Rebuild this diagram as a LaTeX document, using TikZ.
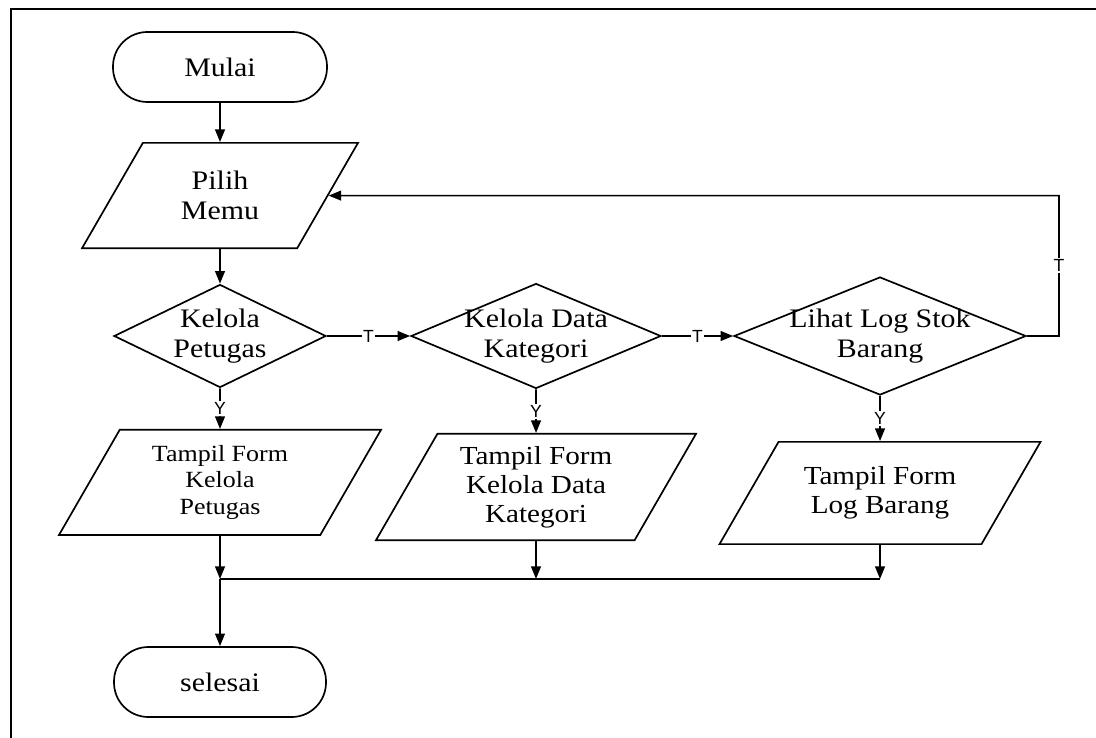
\documentclass[tikz,border=0pt]{standalone}
\usepackage{fontspec}
\setmainfont{Liberation Serif}[FakeStretch=1.12]
\newfontfamily\lblfont{Liberation Sans}
\usepackage{tikz}
\usetikzlibrary{shapes.geometric,arrows.meta}

\tikzset{
  terminal/.style={rectangle,draw,line width=1.2pt,rounded corners=0.86cm,minimum width=5.35cm,minimum height=1.75cm,font=\fontsize{19}{21}\selectfont},
  inputbox/.style={trapezium,trapezium left angle=60,trapezium right angle=120,trapezium stretches body=true,draw,line width=1.2pt,inner xsep=0pt,align=center},
  decision/.style={diamond,aspect=2.4,draw,line width=1.2pt,inner sep=-8pt,align=center,font=\fontsize{19}{21}\selectfont},
  arrow/.style={-{Triangle[length=9pt,width=7pt]},line width=1.2pt},
  line/.style={line width=1.2pt},
  lbl/.style={fill=white,inner sep=1pt,font=\lblfont\fontsize{12.5}{14}\selectfont},
}

\begin{document}
\begin{tikzpicture}
\useasboundingbox (0,0) rectangle (27.4,-18.45);
\draw[line width=2pt] (0.275,-18.45) -- (0.275,-0.225) -- (27.4,-0.225);

\node (mulai) at (5.5,-1.675) [terminal] {Mulai};
\node (pilih) at (5.5,-4.89) [inputbox,minimum width=6.9cm,inner ysep=20.3pt,font=\fontsize{19}{21}\selectfont] {Pilih\\Memu};
\node (kpetugas) at (5.5,-8.4) [decision,minimum width=5.3cm,minimum height=2.575cm] {Kelola\\Petugas};
\node (kkategori) at (13.4,-8.4) [decision,minimum width=6.25cm,minimum height=2.625cm] {Kelola Data\\Kategori};
\node (lihatlog) at (22,-8.4) [decision,minimum width=7.3cm,minimum height=2.95cm] {Lihat Log Stok\\Barang};
\node (fpetugas) at (5.5,-12.06) [inputbox,minimum width=8.05cm,inner ysep=10.9pt,font=\fontsize{16.5}{19}\selectfont] {Tampil Form\\Kelola\\Petugas};
\node (fkategori) at (13.4,-12.175) [inputbox,minimum width=8cm,inner ysep=8.9pt,font=\fontsize{18.5}{20.5}\selectfont] {Tampil Form\\Kelola Data\\Kategori};
\node (flog) at (22,-12.325) [inputbox,minimum width=8.025cm,inner ysep=17.7pt,font=\fontsize{18.5}{20.5}\selectfont] {Tampil Form\\Log Barang};
\node (selesai) at (5.5,-17.05) [terminal,minimum width=5.3cm] {selesai};
\coordinate (m1) at (5.5,-14.475);
\coordinate (m2) at (13.4,-14.475);
\coordinate (m3) at (22,-14.475);
\coordinate (balik) at (26.475,-4.89);

\draw[arrow] (mulai) -- (pilih);
\draw[arrow] (pilih) -- (kpetugas);
\draw[arrow] (kpetugas) -- node[lbl] {T} (kkategori);
\draw[arrow] (kkategori) -- node[lbl] {T} (lihatlog);
\draw[arrow] (lihatlog) -| node[lbl,pos=0.75] {T} (balik) -- (pilih);
\draw[arrow] (kpetugas) -- node[lbl] {Y} (fpetugas);
\draw[arrow] (kkategori) -- node[lbl] {Y} (fkategori);
\draw[arrow] (lihatlog) -- node[lbl] {Y} (flog);
\draw[arrow] (fpetugas) -- (m1);
\draw[arrow] (fkategori) -- (m2);
\draw[arrow] (flog) -- (m3);
\draw[line] (m1) -- (m3);
\draw[arrow] (m1) -- (selesai);
\end{tikzpicture}
\end{document}
